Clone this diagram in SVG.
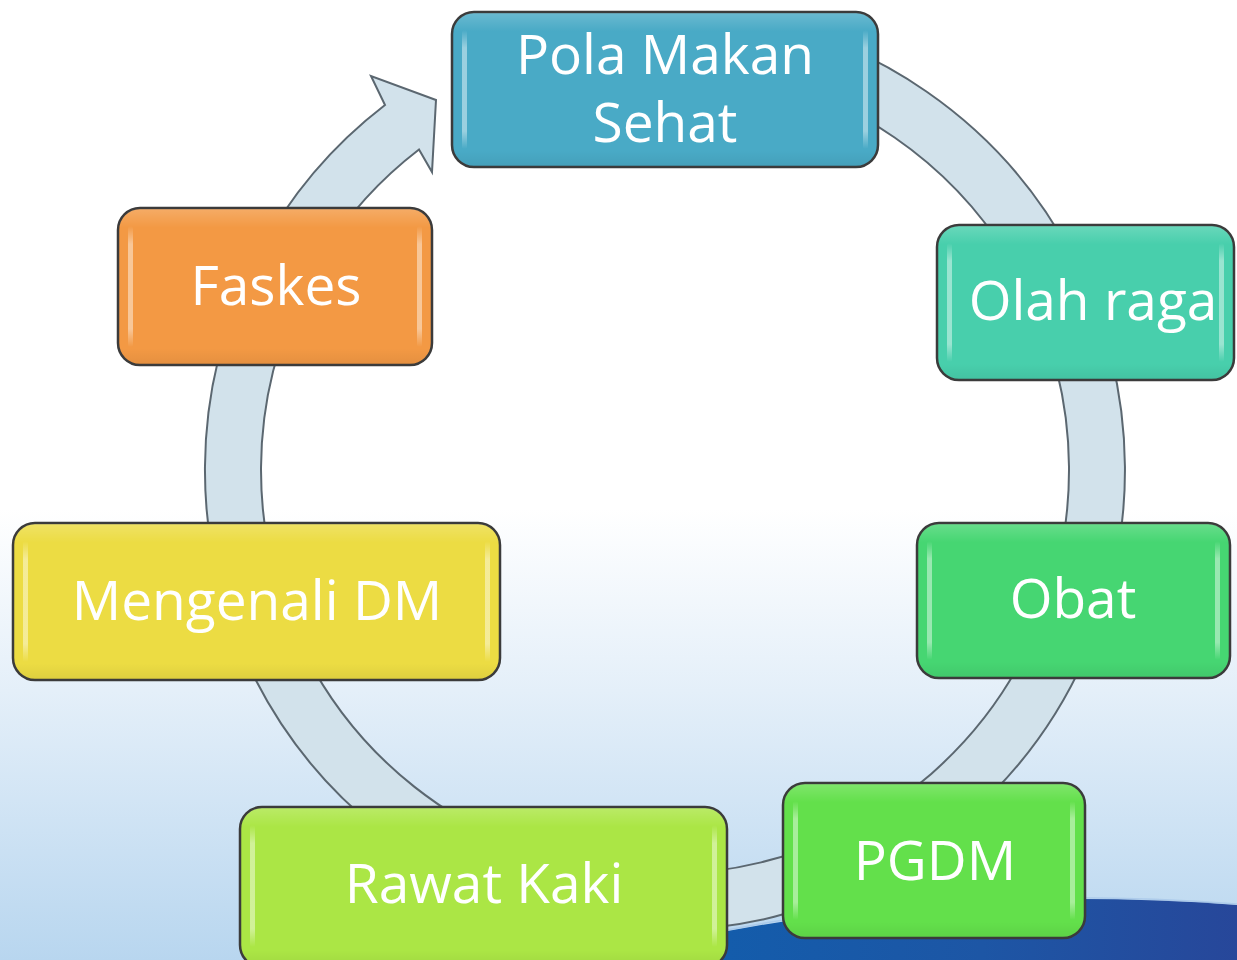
<svg xmlns="http://www.w3.org/2000/svg" width="1237" height="960" viewBox="0 0 1237 960">
  <defs>
    <linearGradient id="bg" x1="0" y1="0" x2="0" y2="1">
      <stop offset="0" stop-color="#ffffff"/>
      <stop offset="0.53" stop-color="#ffffff"/>
      <stop offset="0.72" stop-color="#e4eff9"/>
      <stop offset="1" stop-color="#b8d6ef"/>
    </linearGradient>
    <linearGradient id="swoosh" x1="0" y1="0" x2="1" y2="0">
      <stop offset="0" stop-color="#0f5fae"/>
      <stop offset="0.6" stop-color="#1d56a5"/>
      <stop offset="1" stop-color="#27479a"/>
    </linearGradient>
    <linearGradient id="gloss" x1="0" y1="0" x2="0" y2="1">
      <stop offset="0" stop-color="#ffffff" stop-opacity="0"/>
      <stop offset="0.15" stop-color="#ffffff" stop-opacity="0.45"/>
      <stop offset="0.85" stop-color="#ffffff" stop-opacity="0.45"/>
      <stop offset="1" stop-color="#ffffff" stop-opacity="0"/>
    </linearGradient>
    <linearGradient id="sheen" x1="0" y1="0" x2="0" y2="1">
      <stop offset="0" stop-color="#ffffff" stop-opacity="0.18"/>
      <stop offset="0.12" stop-color="#ffffff" stop-opacity="0"/>
      <stop offset="0.9" stop-color="#000000" stop-opacity="0"/>
      <stop offset="1" stop-color="#000000" stop-opacity="0.06"/>
    </linearGradient>
  </defs>
  <style>
    .box { stroke: #3b3b3b; stroke-width: 2.5; }
    .sh { fill: url(#sheen); stroke: none; }
    .gl { fill: url(#gloss); }
    .lbl { font-family: "Open Sans", "Noto Sans", "Liberation Sans", sans-serif; font-size: 55px; fill: #ffffff; text-anchor: middle; }
    .ring { fill: #d2e2eb; stroke: #5b6770; stroke-width: 2; stroke-linejoin: miter; }
  </style>

  <rect x="0" y="0" width="1237" height="960" fill="url(#bg)"/>
  <path d="M 600,960 Q 900,880 1237,905 L 1237,960 Z" fill="url(#swoosh)"/>
  <path d="M 620,955 Q 900,879 1237,904" fill="none" stroke="#9fc0e6" stroke-width="1.5" opacity="0.6"/>

  <g id="connectors">
    <path class="ring" d="M 744.9,17 A 460 460 0 1 1 385,105 L 371,76 L 436,100 L 432,172 L 419,149.5 A 404 404 0 1 0 735.2,72.1 Z"/>
  </g>

  <g id="node-pola">
    <rect class="box" x="452" y="12" width="426" height="155" rx="22" fill="#49aac6"/>
    <rect class="sh" x="453" y="13" width="424" height="153" rx="21"/>
    <rect class="gl" x="462" y="30" width="5" height="119" rx="2.5"/>
    <rect class="gl" x="863" y="30" width="5" height="119" rx="2.5"/>
    <text class="lbl" x="665" y="74">Pola Makan</text>
    <text class="lbl" x="665" y="142">Sehat</text>
  </g>

  <g id="node-olahraga">
    <rect class="box" x="937" y="225" width="297" height="155" rx="22" fill="#48cfac"/>
    <rect class="sh" x="938" y="226" width="295" height="153" rx="21"/>
    <rect class="gl" x="947" y="243" width="5" height="119" rx="2.5"/>
    <rect class="gl" x="1219" y="243" width="5" height="119" rx="2.5"/>
    <text class="lbl" x="1093" y="320">Olah raga</text>
  </g>

  <g id="node-obat">
    <rect class="box" x="917" y="523" width="313" height="155" rx="22" fill="#46d672"/>
    <rect class="sh" x="918" y="524" width="311" height="153" rx="21"/>
    <rect class="gl" x="927" y="541" width="5" height="119" rx="2.5"/>
    <rect class="gl" x="1215" y="541" width="5" height="119" rx="2.5"/>
    <text class="lbl" x="1073" y="618">Obat</text>
  </g>

  <g id="node-pgdm">
    <rect class="box" x="783" y="783" width="302" height="155" rx="22" fill="#63e04b"/>
    <rect class="sh" x="784" y="784" width="300" height="153" rx="21"/>
    <rect class="gl" x="793" y="801" width="5" height="119" rx="2.5"/>
    <rect class="gl" x="1070" y="801" width="5" height="119" rx="2.5"/>
    <text class="lbl" x="935" y="880">PGDM</text>
  </g>

  <g id="node-rawatkaki">
    <rect class="box" x="240" y="807" width="487" height="160" rx="22" fill="#abe645"/>
    <rect class="sh" x="241" y="808" width="485" height="158" rx="21"/>
    <rect class="gl" x="250" y="825" width="5" height="122" rx="2.5"/>
    <rect class="gl" x="712" y="825" width="5" height="122" rx="2.5"/>
    <text class="lbl" x="484" y="903">Rawat Kaki</text>
  </g>

  <g id="node-mengenali">
    <rect class="box" x="13" y="523" width="487" height="157" rx="22" fill="#ecdc43"/>
    <rect class="sh" x="14" y="524" width="485" height="155" rx="21"/>
    <rect class="gl" x="23" y="541" width="5" height="121" rx="2.5"/>
    <rect class="gl" x="485" y="541" width="5" height="121" rx="2.5"/>
    <text class="lbl" x="257" y="620" font-size="57">Mengenali DM</text>
  </g>

  <g id="node-faskes">
    <rect class="box" x="118" y="208" width="314" height="157" rx="22" fill="#f39944"/>
    <rect class="sh" x="119" y="209" width="312" height="155" rx="21"/>
    <rect class="gl" x="128" y="226" width="5" height="121" rx="2.5"/>
    <rect class="gl" x="417" y="226" width="5" height="121" rx="2.5"/>
    <text class="lbl" x="276" y="305">Faskes</text>
  </g>
</svg>
